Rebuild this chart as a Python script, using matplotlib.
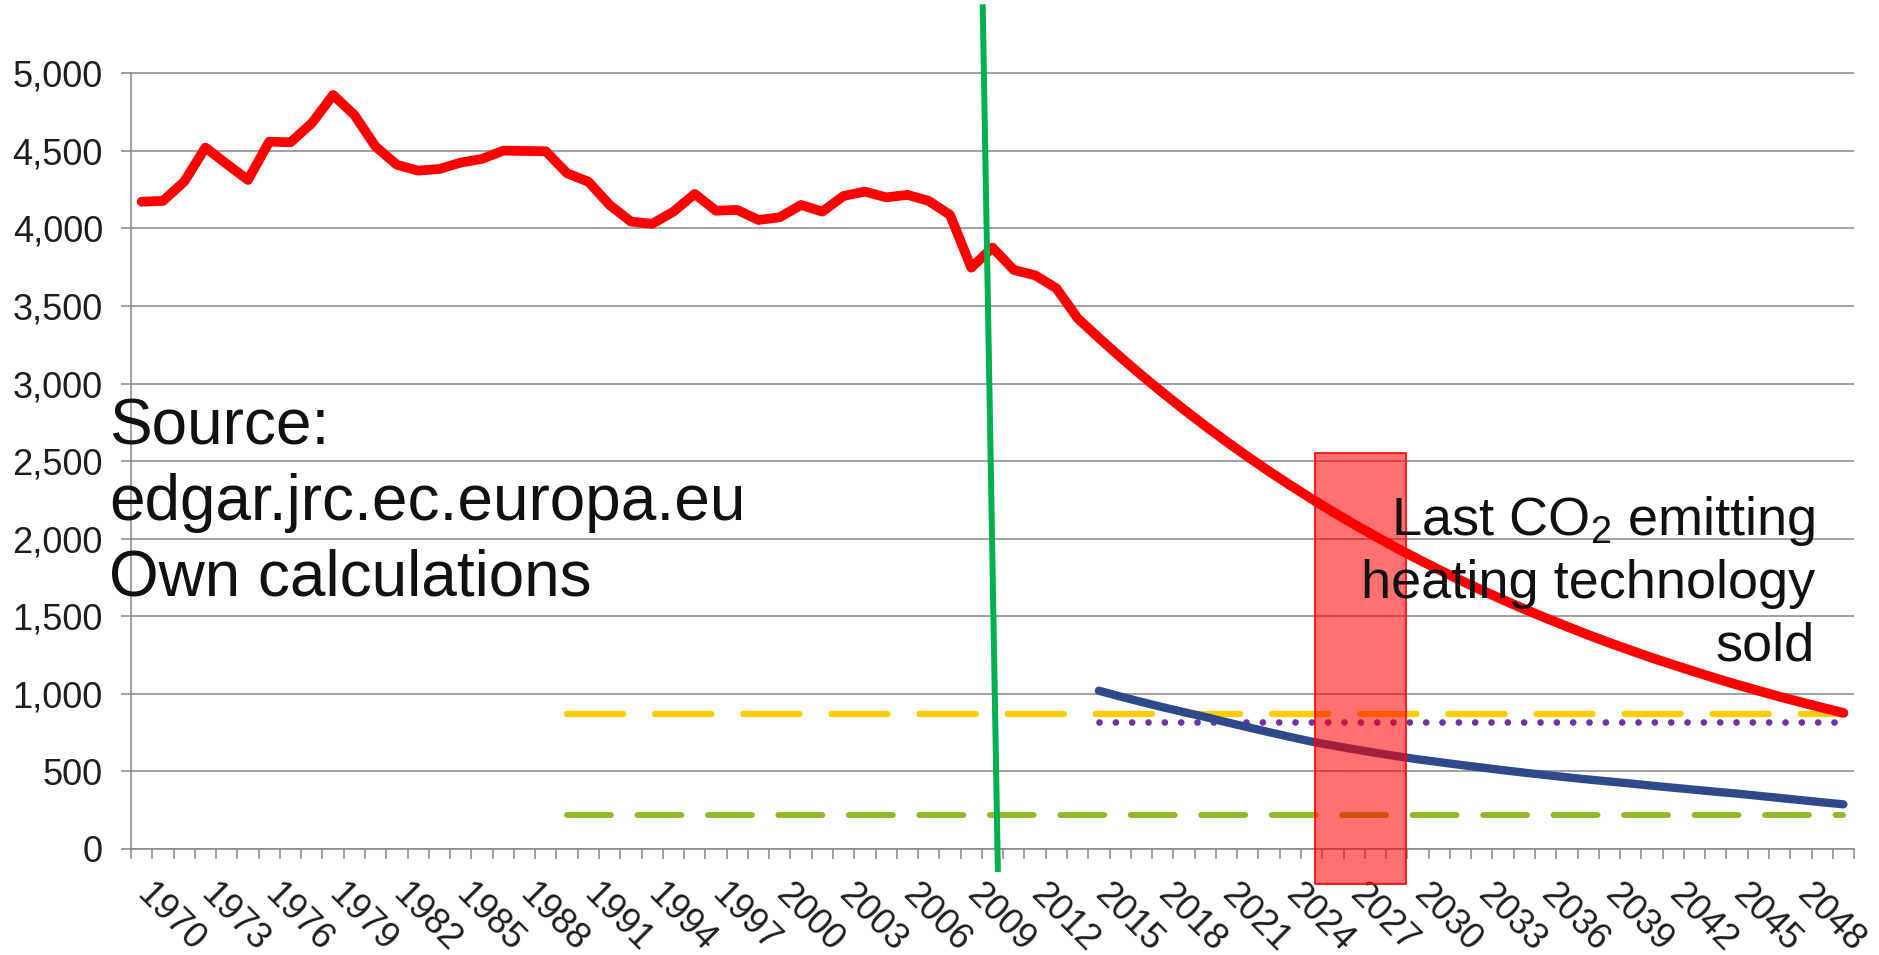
import numpy as np
import matplotlib
matplotlib.use("Agg")
from matplotlib import pyplot as plt
from matplotlib.patches import Rectangle
from matplotlib.ticker import FuncFormatter
import matplotlib.transforms as mtransforms

plt.rcParams['font.family'] = ['Liberation Sans', 'DejaVu Sans']
plt.rcParams['mathtext.fontset'] = 'custom'
plt.rcParams['mathtext.rm'] = 'Liberation Sans'
plt.rcParams['mathtext.it'] = 'Liberation Sans:italic'
plt.rcParams['mathtext.bf'] = 'Liberation Sans:bold'

# emissions (history 1970-2014, then projected path to 2050)
years = list(range(1970, 2051))
co2 = [4172, 4177, 4301, 4521, 4415, 4312, 4559, 4555, 4678, 4860,
       4731, 4527, 4410, 4372, 4383, 4424, 4448, 4501, 4499, 4497,
       4355, 4301, 4151, 4044, 4029, 4108, 4222, 4114, 4119, 4054,
       4072, 4151, 4108, 4209, 4237, 4200, 4216, 4177, 4087, 3747,
       3876, 3732, 3698, 3614, 3421,
       3294, 3172, 3054, 2941, 2832, 2727, 2626, 2528, 2434, 2344,
       2257, 2173, 2093, 2015, 1940, 1868, 1799, 1732, 1668, 1606,
       1546, 1489, 1434, 1380, 1329, 1280, 1232, 1187, 1143, 1100,
       1059, 1020, 982, 946, 911, 877]

# second path (2015-2050)
years_b = list(range(2015, 2051))
co2_b = [1020, 983, 948, 914, 882, 851, 817, 785, 753, 722,
         692, 667, 643, 620, 598, 578, 560, 542, 525, 508,
         492, 477, 462, 448, 435, 422, 408, 395, 382, 369,
         357, 343, 329, 315, 301, 288]

# reference levels
target80_years = [1990, 2050]
target80 = [871, 871]
target95_years = [1990, 2050]
target95 = [218, 218]
purple_years = [2015, 2050]
purple = [818, 818]

xtick_years = list(range(1970, 2049, 3))
yticks = list(range(0, 5001, 500))

grey = '#868686'

fig = plt.figure(figsize=(18.79, 9.55), dpi=100)
ax = fig.add_axes([0.06972, 0.1110, 0.9170, 0.8890])

ax.plot(years, co2, color='#ff0000', lw=7.0, solid_joinstyle='round',
        solid_capstyle='round', zorder=3)
ax.plot(years_b, co2_b, color='#2e4a8b', lw=6.0, solid_capstyle='round', zorder=3)
ax.plot(target80_years, target80, color='#ffcc00', lw=4.5, dashes=(9.0, 5.1),
        dash_capstyle='round', zorder=2)
ax.plot(target95_years, target95, color='#93b92b', lw=4.3, dashes=(7.35, 4.45),
        dash_capstyle='round', zorder=2)
ax.plot(purple_years, purple, color='#7030a0', lw=4.8, dashes=(0.01, 2.44),
        dash_capstyle='round', zorder=2)

# vertical marker line
ax.plot([2009.54, 2010.25], [5425, -129], color='#00b050', lw=4.3,
        clip_on=False, zorder=4)

# last heating technology sold
ax.add_patch(Rectangle((2025.16, -226), 4.28, 2778, facecolor=(1, 0, 0, 0.56),
                       edgecolor='#ff0000', lw=1.2, clip_on=False, zorder=5))

ax.set_xlim(1969.5, 2050.5)
ax.set_ylim(0, 5472)

ax.set_yticks(yticks)
ax.yaxis.set_major_formatter(FuncFormatter(lambda v, p: '{:,.0f}'.format(v)))
ax.tick_params(axis='y', length=7.2, width=1.1, color=grey, direction='out',
               labelsize=26, labelcolor='#1e1e1e', pad=13)

ax.set_xticks(xtick_years)
ax.set_xticklabels([str(y) for y in xtick_years])
ax.set_xticks(np.arange(1969.5, 2051, 1.0), minor=True)
ax.tick_params(axis='x', which='major', length=0, labelsize=26,
               labelcolor='#1e1e1e', pad=20)
ax.tick_params(axis='x', which='minor', length=7.2, width=1.1, color=grey,
               direction='out')
shift = mtransforms.ScaledTranslation(0.13, 0, fig.dpi_scale_trans)
for lab in ax.get_xticklabels():
    lab.set_rotation(-45)
    lab.set_ha('left')
    lab.set_va('top')
    lab.set_rotation_mode('anchor')
    lab.set_transform(lab.get_transform() + shift)

ax.yaxis.grid(True, color=grey, lw=1.1)
ax.set_axisbelow(True)
for s in ['top', 'right']:
    ax.spines[s].set_visible(False)
for s in ['left', 'bottom']:
    ax.spines[s].set_color(grey)
    ax.spines[s].set_linewidth(1.1)
ax.spines['left'].set_bounds(0, 5000)

fig.text(0.058, 0.584, 'Source:\nedgar.jrc.ec.europa.eu\nOwn calculations',
         fontsize=46, color='#111111', ha='left', va='top', linespacing=1.33,
         zorder=6)
ax.text(0.966, 0.483, 'Last CO$_2$ emitting\nheating technology\nsold',
        transform=fig.transFigure, fontsize=39, color='#111111', ha='right',
        va='top', multialignment='right', linespacing=1.3, zorder=6)

fig.savefig('out.png', dpi=100)
